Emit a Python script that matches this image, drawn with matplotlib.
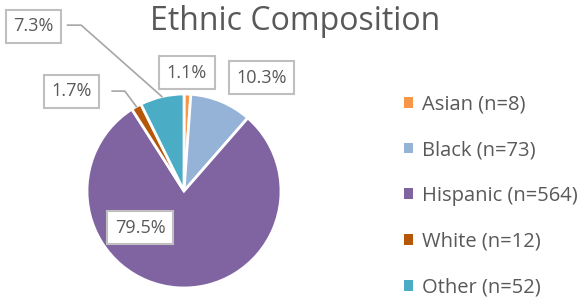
import matplotlib.pyplot as plt
import numpy as np
from matplotlib.patches import Patch

groups = ["Asian", "Black", "Hispanic", "White", "Other"]
counts = [8, 73, 564, 12, 52]
pcts = [1.1, 10.3, 79.5, 1.7, 7.3]
colors = ["#F79646", "#95B3D7", "#8064A2", "#B65708", "#4BACC6"]

# label box positions (data units, pie radius = 1)
label_pos = [(0.03, 1.22), (0.80, 1.17), (-0.45, -0.38), (-1.16, 1.03), (-1.55, 1.70)]
# elbows for leader lines (only White and Other have them)
leaders = {3: [(-0.74, 1.03), (-0.61, 1.03)], 4: [(-1.20, 1.71), (-1.06, 1.71)]}

grey = "#595959"
plt.rcParams['font.family'] = ['Open Sans', 'DejaVu Sans']

fig = plt.figure(figsize=(5.84, 3.0), dpi=100)
cx, cy, r = 184, 191, 97
ax = fig.add_axes([(cx - r) / 584, (300 - cy - r) / 300, 2 * r / 584, 2 * r / 300])

wedges, _ = ax.pie(counts, colors=colors, startangle=90, counterclock=False,
                   wedgeprops=dict(edgecolor="white", linewidth=2))
ax.set_xlim(-1, 1)
ax.set_ylim(-1, 1)
ax.set_aspect("equal")
ax.axis("off")

for i, w in enumerate(wedges):
    x, y = label_pos[i]
    ax.text(x, y, f"{pcts[i]}%", ha="center", va="center", fontsize=13, color=grey,
            bbox=dict(boxstyle="square,pad=0.42", fc="white", ec="#BFBFBF", lw=1.5),
            clip_on=False, zorder=5)
    if i in leaders:
        mid = np.deg2rad((w.theta1 + w.theta2) / 2)
        pts = leaders[i] + [(np.cos(mid), np.sin(mid))]
        xs, ys = zip(*pts)
        ax.plot(xs, ys, color="#A6A6A6", lw=1.2, clip_on=False, zorder=4)

fig.text(295 / 584, 1 - 21 / 300, "Ethnic Composition", ha="center", va="center",
         fontsize=23, color=grey)

handles = [Patch(facecolor=c) for c in colors]
labels = [f"{g} (n={n})" for g, n in zip(groups, counts)]
fig.legend(handles, labels, loc="center left", bbox_to_anchor=(386 / 584, 1 - 196 / 300),
           frameon=False, fontsize=14.5, labelcolor=grey, handlelength=0.45, handleheight=0.45,
           handletextpad=0.45, labelspacing=1.28)

fig.savefig("out.png", dpi=100)
